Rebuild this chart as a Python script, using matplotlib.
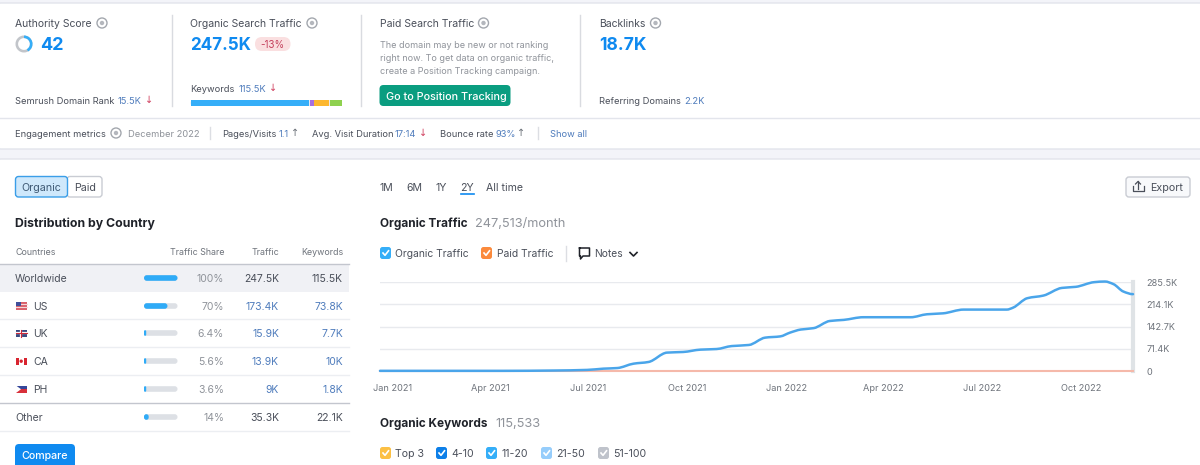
import matplotlib
matplotlib.use("Agg")
import matplotlib.pyplot as plt
import matplotlib.dates as mdates
from matplotlib.patches import FancyBboxPatch, Rectangle, Circle, Wedge, PathPatch
from matplotlib.path import Path
import numpy as np
from datetime import date

plt.rcParams["font.family"] = ["Inter", "DejaVu Sans"]

# chart data
traffic_dates = [
    date(2020, 12, 20), date(2021, 4, 13), date(2021, 5, 30), date(2021, 6, 30),
    date(2021, 7, 15), date(2021, 7, 28), date(2021, 8, 12), date(2021, 8, 26),
    date(2021, 9, 12), date(2021, 9, 27), date(2021, 10, 13), date(2021, 10, 28),
    date(2021, 11, 11), date(2021, 11, 27), date(2021, 12, 12), date(2021, 12, 26),
    date(2022, 1, 4), date(2022, 1, 14), date(2022, 1, 26), date(2022, 2, 10),
    date(2022, 2, 23), date(2022, 3, 13), date(2022, 4, 4), date(2022, 4, 26),
    date(2022, 5, 11), date(2022, 5, 26), date(2022, 6, 14), date(2022, 7, 6),
    date(2022, 7, 24), date(2022, 7, 30), date(2022, 8, 12), date(2022, 8, 27),
    date(2022, 9, 13), date(2022, 9, 26), date(2022, 10, 13), date(2022, 10, 23),
    date(2022, 10, 31), date(2022, 11, 9), date(2022, 11, 18),
]
organic_traffic = [
    500, 500, 1500, 3500, 7500, 9500, 23500, 29000,
    59000, 61000, 68500, 70500, 80000, 83500, 107000, 111000,
    123000, 133000, 137500, 160500,
    164000, 172500, 172500, 172500, 182000, 185000, 197000, 197000,
    197000, 203500, 233500, 242000, 266500, 270000, 285000, 287000,
    278500, 255000, 246500,
]
paid_traffic = [0] * len(traffic_dates)
month_ticks = [
    date(2021, 1, 1), date(2021, 4, 1), date(2021, 7, 1), date(2021, 10, 1),
    date(2022, 1, 1), date(2022, 4, 1), date(2022, 7, 1), date(2022, 10, 1),
]
month_labels = ["Jan 2021", "Apr 2021", "Jul 2021", "Oct 2021",
                "Jan 2022", "Apr 2022", "Jul 2022", "Oct 2022"]
y_ticks = [0, 71400, 142700, 214100, 285500]
y_labels = ["0", "71.4K", "142.7K", "214.1K", "285.5K"]

# country table
countries = ["Worldwide", "US", "UK", "CA", "PH", "Other"]
shares = [100, 70, 6.4, 5.6, 3.6, 14]
share_labels = ["100%", "70%", "6.4%", "5.6%", "3.6%", "14%"]
traffic = ["247.5K", "173.4K", "15.9K", "13.9K", "9K", "35.3K"]
keywords = ["115.5K", "73.8K", "7.7K", "10K", "1.8K", "22.1K"]

# keyword intent bar
intent_shares = [78.5, 2.5, 10, 8]
intent_colors = ["#35aef8", "#a66fe0", "#fcb72f", "#8fd14f"]

authority_score = 42

DARK = "#4a4f5a"
GRAY = "#8f939a"
LINK = "#4f7cbc"
BLUE = "#0f8af0"
RED = "#d0405f"

fig = plt.figure(figsize=(12, 4.65), dpi=100, facecolor="#f3f4f9")
ax = fig.add_axes([0, 0, 1, 1])
ax.set_xlim(0, 1200)
ax.set_ylim(465, 0)
ax.axis("off")


def txt(x, y, s, size=7.4, color=DARK, ha="left", weight="normal"):
    ax.text(x, y, s, fontsize=size, color=color, ha=ha, va="center_baseline", fontweight=weight)


def box(x0, y0, x1, y1, r=3, fc="white", ec="none", lw=1, z=1):
    ax.add_patch(FancyBboxPatch((x0, y0), x1 - x0, y1 - y0, boxstyle=f"round,pad=0,rounding_size={r}",
                                fc=fc, ec=ec, lw=lw, zorder=z))


def globe(x, y):
    ax.add_patch(Circle((x, y), 5, fc="white", ec="#a3a7ae", lw=1, zorder=3))
    ax.add_patch(Circle((x, y), 2.2, fc="#b4b7bd", ec="none", zorder=3))


def arrow(x, y, color=RED, up=False):
    s = "↑" if up else "↓"
    ax.text(x, y, s, fontsize=7, color=color, ha="center", va="center", family="DejaVu Sans")


def checkbox(x, y, color):
    box(x, y - 6, x + 11, y + 6, r=2.5, fc=color, z=3)
    ax.plot([x + 3, x + 5, x + 8.5], [y, y + 2.3, y - 2.2], color="white", lw=1.2, zorder=4)


def smooth_path(xs, ys):
    # cubic segments through the points, flat tangent at local turns
    xs = np.asarray(xs, dtype=float)
    ys = np.asarray(ys, dtype=float)
    slopes = np.diff(ys) / np.diff(xs)
    m = np.zeros(len(xs))
    for i in range(1, len(xs) - 1):
        if slopes[i - 1] * slopes[i] > 0:
            m[i] = 2 * slopes[i - 1] * slopes[i] / (slopes[i - 1] + slopes[i])
    verts = [(xs[0], ys[0])]
    codes = [Path.MOVETO]
    for i in range(len(xs) - 1):
        dx = (xs[i + 1] - xs[i]) / 3
        verts += [(xs[i] + dx, ys[i] + m[i] * dx), (xs[i + 1] - dx, ys[i + 1] - m[i + 1] * dx), (xs[i + 1], ys[i + 1])]
        codes += [Path.CURVE4] * 3
    return Path(verts, codes)


# top card
box(-5, 3, 1210, 149, r=6, ec="#e2e4ec")
ax.plot([0, 1200], [118, 118], color="#e3e5ec", lw=1, zorder=2)
for x in [172, 361, 580]:
    ax.plot([x, x], [15, 106], color="#d9dbe0", lw=1, zorder=2)

txt(15, 23, "Authority Score", 7.5)
globe(102, 23)
ax.add_patch(Wedge((24, 44), 8.5, 0, 360, width=2.6, fc="#c2c5ca", ec="none", zorder=3))
ax.add_patch(Wedge((24, 44), 8.5, -90, -90 + authority_score * 3.6, width=2.6, fc="#35aef8", ec="none", zorder=4))
txt(40, 44, "42", 13, BLUE, weight="bold")
txt(15, 100, "Semrush Domain Rank", 6.7)
txt(118, 100, "15.5K", 6.7, LINK)
arrow(149, 100)

txt(190.5, 23, "Organic Search Traffic", 7.5)
globe(312, 23)
txt(190.5, 44, "247.5K", 12.3, BLUE, weight="bold")
box(255, 37, 290.5, 51, r=7, fc="#fadfe0", z=2)
txt(272.7, 44, "-13%", 7, "#c4405c", ha="center")
txt(190.5, 88, "Keywords", 6.7)
txt(238.5, 88, "115.5K", 6.7, LINK)
arrow(273, 88)
box(190.5, 100, 342, 106, r=3, fc="#e8e9ee", z=2)
left = 190.5
for share, color in zip(intent_shares, intent_colors):
    w = share / 100 * 151.5
    ax.barh(103, w, height=6, left=left, color=color, zorder=3)
    left += w + 0.5

txt(379.5, 23, "Paid Search Traffic", 7.5)
globe(483.5, 23)
txt(379.5, 45, "The domain may be new or not ranking", 6.5, GRAY)
txt(379.5, 57.5, "right now. To get data on organic traffic,", 6.5, GRAY)
txt(379.5, 70, "create a Position Tracking campaign.", 6.5, GRAY)
box(379.5, 85, 510.5, 106, r=4, fc="#0a9d80", z=2)
txt(386.5, 95.5, "Go to Position Tracking", 7.8, "white", weight="medium")

txt(599, 23, "Backlinks", 7.5)
globe(655.5, 23)
txt(599, 44, "18.7K", 12.6, BLUE, weight="bold")
txt(599, 100, "Referring Domains", 6.7)
txt(684, 100, "2.2K", 6.7, LINK)

txt(15, 133, "Engagement metrics", 6.7)
globe(116, 133)
txt(128, 133, "December 2022", 6.7, GRAY)
ax.plot([209.5, 209.5], [127, 139], color="#dcdee3", lw=1, zorder=2)
txt(222.5, 133, "Pages/Visits", 6.7)
txt(279, 133, "1.1", 6.7, LINK)
arrow(295.5, 133, "#6a7078", up=True)
txt(312, 133, "Avg. Visit Duration", 6.7)
txt(394.5, 133, "17:14", 6.7, LINK)
arrow(423, 133)
txt(440, 133, "Bounce rate", 6.7)
txt(495, 133, "93%", 6.7, LINK)
arrow(521, 133, "#6a7078", up=True)
ax.plot([537.5, 537.5], [127, 139], color="#dcdee3", lw=1, zorder=2)
txt(550, 133, "Show all", 6.7, LINK)

# bottom card
box(-5, 159, 1210, 480, r=6, ec="#e2e4ec")

# organic / paid toggle
box(67, 176.5, 102, 197, r=3, ec="#c9ccd3", z=2)
box(15.5, 176.5, 67.5, 197, r=3, fc="#cfe8fb", ec="#3a9ee8", z=3)
txt(41.5, 187, "Organic", 7.7, "#3f5a75", ha="center")
txt(84.7, 187, "Paid", 7.7, ha="center")

txt(15, 222, "Distribution by Country", 8.85, "#1f2229", weight="bold")

txt(15, 251, "Countries", 6.4, "#6f747c")
txt(224, 251, "Traffic Share", 6.4, "#6f747c", ha="right")
txt(279, 251, "Traffic", 6.4, "#6f747c", ha="right")
txt(343, 251, "Keywords", 6.4, "#6f747c", ha="right")
ax.add_patch(Rectangle((0, 263.5), 349, 28.5, fc="#f0f1f5", ec="none", zorder=2))
ax.plot([0, 349], [263.5, 263.5], color="#c3c6ce", lw=1, zorder=3)
ax.plot([0, 349], [403, 403], color="#c3c6ce", lw=1, zorder=3)
for y in [319, 347, 375, 431]:
    ax.plot([0, 349], [y, y], color="#eceef2", lw=1, zorder=3)

row_y = [278, 306, 333, 361, 389, 417]
for i, name in enumerate(countries):
    y = row_y[i]
    is_flag = 1 <= i <= 4
    txt(33.5 if is_flag else 15, y, name, 7.5)
    box(144, y - 2.8, 177.5, y + 2.8, r=2.8, fc="#dde0e5", z=4)
    w = max(shares[i] / 100 * 33.5, 2.2)
    box(144, y - 2.8, 144 + w, y + 2.8, r=min(2.8, w / 2), fc="#2fabf7", z=5)
    txt(224, y, share_labels[i], 7.5, GRAY, ha="right")
    val_color = LINK if is_flag else DARK
    txt(279, y, traffic[i], 7.5, val_color, ha="right")
    txt(343, y, keywords[i], 7.5, val_color, ha="right")

# little flags
ax.add_patch(Rectangle((16, 302), 10.5, 7.5, fc="#d9606a", ec="none", zorder=4))
ax.add_patch(Rectangle((16, 302), 5, 4, fc="#3f4f9a", ec="none", zorder=5))
ax.plot([21, 26.5], [304, 304], color="#f3d8da", lw=0.8, zorder=5)
ax.plot([16, 26.5], [307, 307], color="#f3d8da", lw=0.8, zorder=5)
ax.add_patch(Rectangle((16, 329.5), 10.5, 7.5, fc="#3a4a80", ec="none", zorder=4))
ax.plot([21.2, 21.2], [329.5, 337], color="white", lw=1.6, zorder=5)
ax.plot([16, 26.5], [333.2, 333.2], color="white", lw=1.6, zorder=5)
ax.plot([21.2, 21.2], [329.5, 337], color="#cf2b3a", lw=0.8, zorder=6)
ax.plot([16, 26.5], [333.2, 333.2], color="#cf2b3a", lw=0.8, zorder=6)
ax.add_patch(Rectangle((16, 357.5), 10.5, 7.5, fc="#d8242f", ec="none", zorder=4))
ax.add_patch(Rectangle((18.5, 357.5), 5.5, 7.5, fc="white", ec="none", zorder=5))
ax.add_patch(Circle((21.2, 361.2), 1.7, fc="#d8242f", ec="none", zorder=6))
ax.add_patch(Rectangle((16, 385.5), 10.5, 3.7, fc="#35479a", ec="none", zorder=4))
ax.add_patch(Rectangle((16, 389.2), 10.5, 3.8, fc="#d8303a", ec="none", zorder=4))
ax.fill([16, 21, 16], [385.5, 389.2, 393], fc="white", zorder=5)

box(15, 444, 75, 472, r=4, fc=BLUE, z=2)
txt(45, 454.5, "Compare", 7.7, "white", ha="center", weight="medium")

# range tabs
for x, label in zip([380, 406, 435, 460.5, 486], ["1M", "6M", "1Y", "2Y", "All time"]):
    txt(x, 187, label, 7.6)
ax.plot([460.5, 473.5], [193.5, 193.5], color=BLUE, lw=1.2, zorder=3)

box(1126, 177, 1190, 197, r=3, fc="#f8f9fb", ec="#c9ccd3", z=2)
ax.plot([1132.5, 1132.5, 1143.5, 1143.5], [186, 191.5, 191.5, 186], color=DARK, lw=0.9, zorder=3)
ax.plot([1138, 1138], [189, 181.5], color=DARK, lw=0.9, zorder=3)
ax.plot([1135.5, 1138, 1140.5], [184, 181.5, 184], color=DARK, lw=0.9, zorder=3)
txt(1150, 187, "Export", 7.7)

txt(380, 222, "Organic Traffic", 8.5, "#1f2229", weight="bold")
txt(475, 222, "247,513/month", 9.2, GRAY)

checkbox(380, 253, "#35aef8")
txt(395, 253, "Organic Traffic", 7.4)
checkbox(481, 253, "#fb8a3c")
txt(497, 253, "Paid Traffic", 7.4)
ax.plot([566, 566], [246, 261], color="#dcdee3", lw=1, zorder=2)
ax.plot([579.5, 589.5, 589.5, 583, 580.5, 580.5, 579.5, 579.5], [248, 248, 256, 256, 259, 256, 256, 248],
        color="#1f2229", lw=1.1, zorder=3)
txt(594, 253, "Notes", 7.4)
ax.plot([630, 633.5, 637], [252.5, 256, 252.5], color="#1f2229", lw=1.2, zorder=3)

txt(380, 422, "Organic Keywords", 8.5, "#1f2229", weight="bold")
txt(495, 422, "115,533", 9.2, GRAY)
for x, label, color in zip([380, 436, 486, 541, 598],
                           ["Top 3", "4-10", "11-20", "21-50", "51-100"],
                           ["#fcc044", "#0d7fe8", "#35aef8", "#96cdfb", "#bfc3cb"]):
    checkbox(x, 453, color)
    txt(x + 15, 453, label, 7.6)

# the traffic chart
chart = fig.add_axes([380 / 1200, 1 - 371 / 465, (1133 - 380) / 1200, (371 - 282) / 465])
chart.patch.set_alpha(0)
date_nums = mdates.date2num(traffic_dates)
chart.plot(date_nums, paid_traffic, color="#f5b9aa", lw=1.5, clip_on=False, zorder=3)
chart.add_patch(PathPatch(smooth_path(date_nums, organic_traffic), fc="none", ec="#4aa5ea", lw=1.8,
                          clip_on=False, zorder=4, capstyle="round"))
chart.set_xlim(date_nums[0], date_nums[-1])
chart.set_ylim(0, 285500)
chart.set_xticks(mdates.date2num(month_ticks))
chart.set_xticklabels(month_labels, fontsize=6.6, color="#6f747c")
chart.yaxis.tick_right()
chart.set_yticks(y_ticks)
chart.set_yticklabels(y_labels, fontsize=6.6, color="#6f747c")
chart.tick_params(axis="both", length=0)
chart.tick_params(axis="x", pad=9)
chart.tick_params(axis="y", pad=9.5)
chart.grid(axis="y", color="#e8eaee", lw=1)
for s in chart.spines.values():
    s.set_visible(False)
chart.axvline(date_nums[-1], color="#dfe3e6", lw=3, zorder=2, clip_on=False)

fig.savefig("out.png", dpi=100, facecolor=fig.get_facecolor())
